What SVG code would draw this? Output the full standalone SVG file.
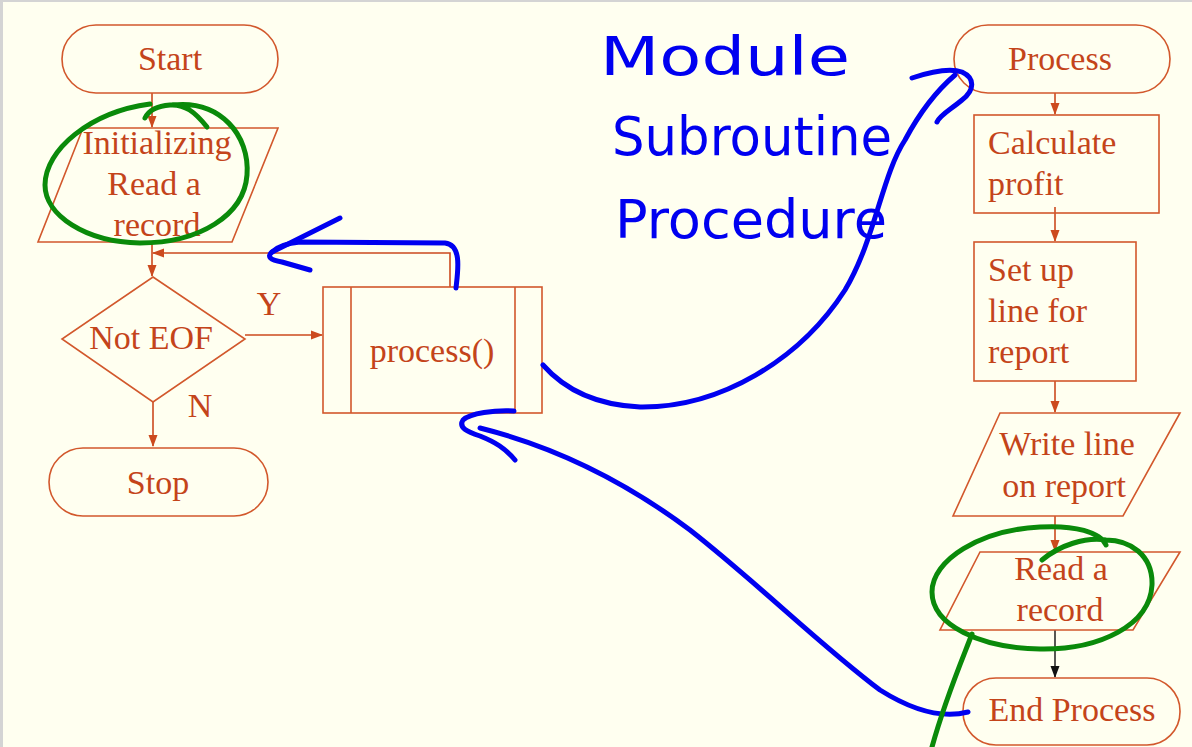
<svg xmlns="http://www.w3.org/2000/svg" width="1192" height="747" viewBox="0 0 1192 747">
<style>
.shape{fill:none;stroke:#D2582C;stroke-width:1.6}
.t{font-family:"Liberation Serif","Times New Roman",serif;font-size:34px;fill:#C4441A}
.c{text-anchor:middle}
.conn{fill:none;stroke:#CC4A1E;stroke-width:1.6}
.blue{fill:none;stroke:#0000F0;stroke-width:5;stroke-linecap:round;stroke-linejoin:round}
.green{fill:none;stroke:#0A8A0A;stroke-width:5;stroke-linecap:round;stroke-linejoin:round}
.hw{font-family:"DejaVu Sans",sans-serif;font-size:54px;fill:#0000F0}
</style>
<defs>
<marker id="ao" markerWidth="12" markerHeight="12" refX="11" refY="6" orient="auto" markerUnits="userSpaceOnUse">
<path d="M0,1.5 L12,6 L0,10.5 Z" fill="#CC4A1E"/>
</marker>
<marker id="ak" markerWidth="12" markerHeight="12" refX="11" refY="6" orient="auto" markerUnits="userSpaceOnUse">
<path d="M0,1.5 L12,6 L0,10.5 Z" fill="#111"/>
</marker>
</defs>
<rect x="0" y="0" width="1192" height="747" fill="#FFFFF0"/>
<rect x="0" y="0" width="1192" height="2" fill="#D4D4D4"/>
<rect x="0" y="0" width="3" height="747" fill="#D4D4D4"/>

<g id="connectors">
<path class="conn" d="M152,93 V127" marker-end="url(#ao)"/>
<path class="conn" d="M152,242 V276" marker-end="url(#ao)"/>
<path class="conn" d="M450,287 V253 H153" marker-end="url(#ao)"/>
<path class="conn" d="M245,335 H322" marker-end="url(#ao)"/>
<path class="conn" d="M153,402 V446" marker-end="url(#ao)"/>
<path class="conn" d="M1055,93 V114" marker-end="url(#ao)"/>
<path class="conn" d="M1055,207 V241" marker-end="url(#ao)"/>
<path class="conn" d="M1055,381 V412" marker-end="url(#ao)"/>
<path class="conn" d="M1055,516 V551" marker-end="url(#ao)"/>
<path d="M1055,630 V677" fill="none" stroke="#111" stroke-width="1.4" marker-end="url(#ak)"/>
<text class="t c" x="269" y="315">Y</text>
<text class="t c" x="200" y="417">N</text>
</g>

<g id="start">
<rect class="shape" x="62" y="25" width="216" height="68" rx="34"/>
<text class="t c" x="170" y="70">Start</text>
</g>
<g id="init">
<path class="shape" d="M83,128 H278 L232,242 H38 Z"/>
<text class="t c" x="157" y="154">Initializing</text>
<text class="t c" x="154" y="195">Read a</text>
<text class="t c" x="157" y="236">record</text>
</g>
<g id="decision">
<path class="shape" d="M153,277 L245,339 L153,402 L62,339 Z"/>
<text class="t c" x="151" y="349">Not EOF</text>
</g>
<g id="stop">
<rect class="shape" x="49" y="448" width="219" height="68" rx="34"/>
<text class="t c" x="158" y="494">Stop</text>
</g>
<g id="process-call">
<rect class="shape" x="323" y="287" width="219" height="126"/>
<path class="shape" d="M351,287 V413 M515,287 V413"/>
<text class="t c" x="432" y="362">process()</text>
</g>

<g id="process">
<rect class="shape" x="954" y="25" width="216" height="68" rx="34"/>
<text class="t c" x="1060" y="70">Process</text>
</g>
<g id="calc">
<rect class="shape" x="974" y="115" width="185" height="98"/>
<text class="t" x="988" y="154">Calculate</text>
<text class="t" x="988" y="195">profit</text>
</g>
<g id="setup">
<rect class="shape" x="974" y="242" width="162" height="139"/>
<text class="t" x="988" y="281">Set up</text>
<text class="t" x="988" y="322">line for</text>
<text class="t" x="988" y="363">report</text>
</g>
<g id="write">
<path class="shape" d="M1000,413 H1180 L1123,516 H953 Z"/>
<text class="t c" x="1067" y="455">Write line</text>
<text class="t c" x="1064" y="497">on report</text>
</g>
<g id="read">
<path class="shape" d="M980,552 H1180 L1133,630 H940 Z"/>
<text class="t c" x="1061" y="580">Read a</text>
<text class="t c" x="1060" y="621">record</text>
</g>
<g id="end">
<rect class="shape" x="963" y="678" width="217" height="67" rx="33"/>
<text class="t c" x="1072" y="721">End Process</text>
</g>

<g id="annotations">
<text class="hw" x="600" y="75" textLength="250" lengthAdjust="spacingAndGlyphs">Module</text>
<text class="hw" x="612" y="155" textLength="280" lengthAdjust="spacingAndGlyphs">Subroutine</text>
<text class="hw" x="615" y="238" textLength="272" lengthAdjust="spacingAndGlyphs">Procedure</text>
<path class="blue" d="M456,288 C458,270 462,245 445,243 L300,242 Q280,244 272,252"/>
<path class="blue" d="M340,218 L272,252 Q264,259 282,262 L310,270"/>
<path class="blue" d="M543,365 C565,390 595,405 640,407 C720,408 800,360 845,290 C875,240 882,175 905,140 C920,112 935,92 955,75"/>
<path class="blue" d="M912,78 C930,72 950,68 962,72 C975,78 975,90 962,100 C950,110 940,115 937,122"/>
<path class="blue" d="M968,712 C945,718 915,712 880,690 C820,645 760,585 690,530 C630,485 560,448 480,428"/>
<path class="blue" d="M514,411 C495,410 470,413 463,420 C458,428 468,432 480,436 C495,442 505,448 515,460"/>
<path class="green" d="M207,127 C195,112 185,104 170,105 C155,106 148,112 145,118 M173,105 C220,100 250,135 247,175 C244,215 200,243 140,243 C85,242 45,215 45,185 C45,150 90,112 150,104"/>
<path class="green" d="M1042,560 C1060,545 1085,537 1106,540 C1130,540 1153,555 1152,585 C1150,625 1100,650 1040,649 C980,648 932,625 932,592 C932,560 980,530 1040,527 C1075,525 1100,532 1106,545"/>
<path class="green" d="M972,634 C960,665 945,700 932,747"/>
</g>
</svg>
